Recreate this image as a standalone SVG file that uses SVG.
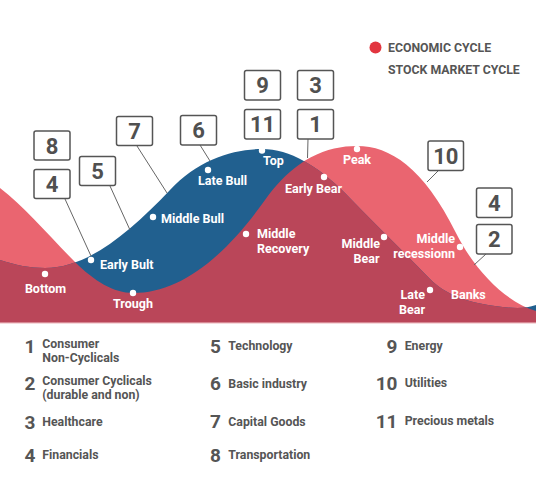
<svg xmlns="http://www.w3.org/2000/svg" width="536" height="480" viewBox="0 0 536 480">
<defs>
<style>
.lbl{font-family:Roboto,"Liberation Sans",sans-serif;font-weight:700;font-size:12.5px;fill:#ffffff}
.box rect{fill:#ffffff;stroke:#555555;stroke-width:1.5}
.box text{font-family:Roboto,"Liberation Sans",sans-serif;font-weight:700;font-size:22px;fill:#505050;text-anchor:middle}
.dot{fill:#ffffff}
.num{font-family:Roboto,"Liberation Sans",sans-serif;font-weight:700;font-size:19px;fill:#555555;text-anchor:end}
.leg{font-family:Roboto,"Liberation Sans",sans-serif;font-weight:700;font-size:12.3px;fill:#555555}
.conn line{stroke:#666666;stroke-width:1}
</style>
<path id="econ" d="M0,188 C25,207 50,237 75,262 C94,281 114,293 133,293 C177,293 221,262 265,200 C295,158 327,146 357,146 C390,146 423,167 456,233 C476,273 508,303 536,311 L536,323 L0,323 Z"/>
<path id="stock" d="M0,260 C15,265 30,268 45,268 C87,268 128,234 170,190 C198,160 232,149 262,149 C290,149 318,166 345,193 C375,224 405,253 430,279 C445,294 465,302 495,306 C510,308 524,309.5 536,305 L536,323 L0,323 Z"/>
<clipPath id="stockClip"><use href="#stock"/></clipPath>
</defs>
<rect width="536" height="480" fill="#ffffff"/>
<g id="curves">
<use href="#econ" fill="#EA6570"/>
<use href="#stock" fill="#21608F"/>
<use href="#econ" fill="#BA4659" clip-path="url(#stockClip)"/>
<rect x="0" y="322.5" width="536" height="1.2" fill="#F2C9CE"/>
</g>
<g id="legend-top">
<circle cx="375.5" cy="47.5" r="6" fill="#E2353F"/>
<text class="leg" x="388" y="51.5">ECONOMIC CYCLE</text>
<text class="leg" x="388" y="74">STOCK MARKET CYCLE</text>
</g>
<g class="conn" id="connectors">
<line x1="65" y1="199" x2="91" y2="256"/>
<line x1="110" y1="186" x2="130" y2="230"/>
<line x1="137" y1="146" x2="167" y2="193"/>
<line x1="200" y1="145" x2="210" y2="161"/>
<line x1="308" y1="139" x2="307.5" y2="158"/>
<line x1="438" y1="171" x2="427" y2="182"/>
<line x1="486" y1="254" x2="474" y2="265"/>
</g>
<g id="box-8" class="box"><rect x="34" y="131" width="36" height="29" rx="2"/><text x="52" y="153.5">8</text></g>
<g id="box-4a" class="box"><rect x="34" y="169.5" width="36" height="29" rx="2"/><text x="52" y="192">4</text></g>
<g id="box-5" class="box"><rect x="79.5" y="156.5" width="36" height="29" rx="2"/><text x="97.5" y="179">5</text></g>
<g id="box-7" class="box"><rect x="116.5" y="116.5" width="36" height="29" rx="2"/><text x="134.5" y="139">7</text></g>
<g id="box-6" class="box"><rect x="180.5" y="115.5" width="36" height="29.5" rx="2"/><text x="198.5" y="138">6</text></g>
<g id="box-9" class="box"><rect x="244.5" y="70.5" width="36" height="29.5" rx="2"/><text x="262.5" y="93">9</text></g>
<g id="box-11" class="box"><rect x="244.5" y="109.5" width="36" height="29.5" rx="2"/><text x="262.5" y="132">11</text></g>
<g id="box-3" class="box"><rect x="297.5" y="70.5" width="36" height="29.5" rx="2"/><text x="315.5" y="93">3</text></g>
<g id="box-1" class="box"><rect x="297.5" y="109.5" width="36" height="29.5" rx="2"/><text x="315.5" y="132">1</text></g>
<g id="box-10" class="box"><rect x="428" y="141" width="35.5" height="29.5" rx="2"/><text x="445.8" y="163.5">10</text></g>
<g id="box-4b" class="box"><rect x="476.5" y="188" width="35.5" height="29.5" rx="2"/><text x="494.3" y="210.5">4</text></g>
<g id="box-2" class="box"><rect x="476.5" y="224.5" width="35.5" height="29.5" rx="2"/><text x="494.3" y="247">2</text></g>
<g id="stage-bottom"><circle class="dot" cx="45" cy="274" r="3.2"/><text class="lbl" x="45.5" y="292.5" text-anchor="middle">Bottom</text></g>
<g id="stage-trough"><circle class="dot" cx="133" cy="293" r="3.2"/><text class="lbl" x="133" y="307.5" text-anchor="middle">Trough</text></g>
<g id="stage-early-bult"><circle class="dot" cx="91" cy="260" r="3.2"/><text class="lbl" x="100" y="268.5">Early Bult</text></g>
<g id="stage-middle-bull"><circle class="dot" cx="153" cy="217" r="3.2"/><text class="lbl" x="161" y="222.5">Middle Bull</text></g>
<g id="stage-late-bull"><circle class="dot" cx="208" cy="170" r="3.2"/><text class="lbl" x="198" y="184.5">Late Bull</text></g>
<g id="stage-top"><circle class="dot" cx="262" cy="150.5" r="3.2"/><text class="lbl" x="263" y="165">Top</text></g>
<g id="stage-early-bear"><circle class="dot" cx="324" cy="177" r="3.2"/><text class="lbl" x="285" y="192.5">Early Bear</text></g>
<g id="stage-peak"><circle class="dot" cx="357" cy="149" r="3.2"/><text class="lbl" x="357" y="164" text-anchor="middle">Peak</text></g>
<g id="stage-middle-recovery"><circle class="dot" cx="246" cy="234" r="3.2"/><text class="lbl" x="257" y="238">Middle</text><text class="lbl" x="257" y="252.5">Recovery</text></g>
<g id="stage-middle-bear"><circle class="dot" cx="384" cy="237" r="3.2"/><text class="lbl" x="380" y="247.5" text-anchor="end">Middle</text><text class="lbl" x="379.5" y="262.5" text-anchor="end">Bear</text></g>
<g id="stage-middle-recession"><circle class="dot" cx="460" cy="247" r="3.2"/><text class="lbl" x="455" y="243" text-anchor="end">Middle</text><text class="lbl" x="455" y="258" text-anchor="end">recessionn</text></g>
<g id="stage-late-bear"><circle class="dot" cx="430" cy="290" r="3.2"/><text class="lbl" x="425" y="299" text-anchor="end">Late</text><text class="lbl" x="425" y="313.5" text-anchor="end">Bear</text></g>
<g id="stage-banks"><text class="lbl" x="451" y="299">Banks</text></g>
<g id="legend-bottom">
<text class="num" x="35.5" y="352.5">1</text><text class="leg" x="42.3" y="348">Consumer</text><text class="leg" x="42.3" y="362.3">Non-Cyclicals</text>
<text class="num" x="35.5" y="390">2</text><text class="leg" x="42.3" y="385">Consumer Cyclicals</text><text class="leg" x="42.3" y="399">(durable and non)</text>
<text class="num" x="35.5" y="429">3</text><text class="leg" x="42.3" y="425.7">Healthcare</text>
<text class="num" x="35.5" y="462">4</text><text class="leg" x="42.3" y="459">Financials</text>
<text class="num" x="221" y="352.5">5</text><text class="leg" x="228.3" y="349.7">Technology</text>
<text class="num" x="221" y="390">6</text><text class="leg" x="228.3" y="388.3">Basic industry</text>
<text class="num" x="221" y="428">7</text><text class="leg" x="228.3" y="425.7">Capital Goods</text>
<text class="num" x="221" y="461.5">8</text><text class="leg" x="228.3" y="459">Transportation</text>
<text class="num" x="397.5" y="352.5">9</text><text class="leg" x="404.7" y="349.7">Energy</text>
<text class="num" x="397.5" y="390">10</text><text class="leg" x="404.7" y="387.3">Utilities</text>
<text class="num" x="397.5" y="428">11</text><text class="leg" x="404.7" y="424.7">Precious metals</text>
</g>
</svg>
